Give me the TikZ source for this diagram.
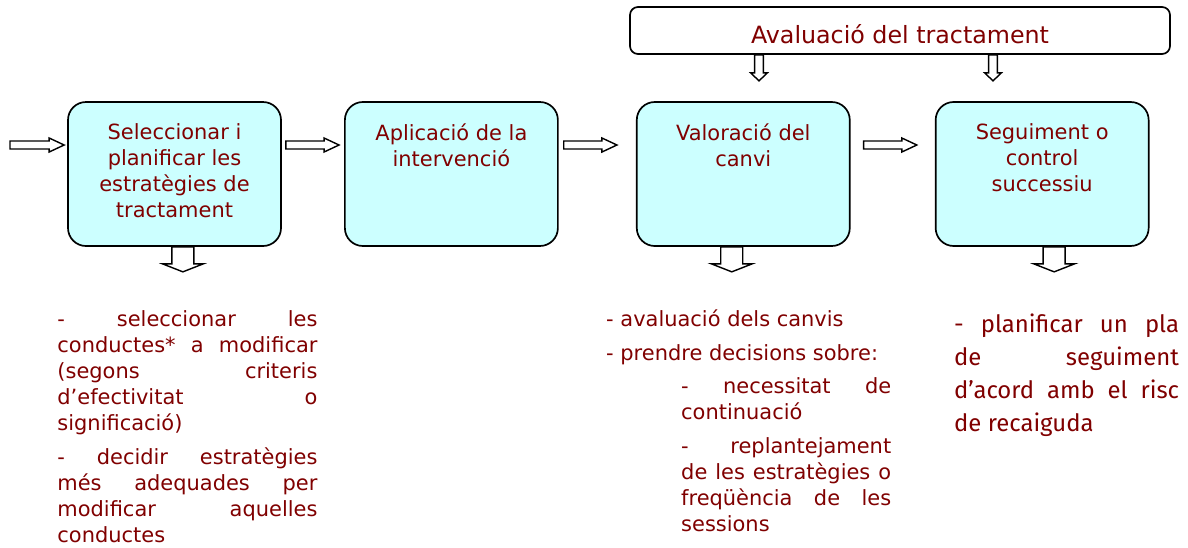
\documentclass[tikz,border=0pt]{standalone}
\usepackage{fontspec}
\setmainfont{DejaVu Sans}
\newfontfamily\notefont{Fira Sans}
\usepackage{xcolor}
\usepackage{tikz}
\usetikzlibrary{positioning, calc}
\definecolor{boxtext}{HTML}{800000}
\definecolor{stagebg}{HTML}{CCFFFF}
\tolerance=10000
\hbadness=10000
\tikzset{
  stage/.style={
    draw=black,
    line width=1.2pt,
    fill=stagebg,
    rounded corners=0.45cm,
    minimum width=5.325cm,
    minimum height=3.6cm,
    inner sep=0pt
  },
  stage text/.style={
    align=center, inner sep=0pt, text=boxtext,
    font=\fontsize{14.9}{18.5}\selectfont
  },
  eval box/.style={
    draw=black, line width=1.2pt, fill=white,
    rounded corners=0.2cm,
    minimum width=13.5cm, minimum height=1.175cm,
    text height=0.65cm, text depth=0pt,
    text=boxtext, font=\fontsize{16.9}{20}\selectfont
  },
  note/.style={
    align=justify, inner sep=0pt, text=boxtext,
    font=\fontsize{14.9}{18.5}\selectfont
  },
  hblock/.style={
    draw=black, line width=1pt, fill=white,
    to path={let \p1=(\tikztostart), \p2=(\tikztotarget) in
      (\x1,\y1+1mm) -- (\x2-3.75mm,\y1+1mm) -- (\x2-3.75mm,\y1+1.75mm) -- (\x2,\y1)
      -- (\x2-3.75mm,\y1-1.75mm) -- (\x2-3.75mm,\y1-1mm) -- (\x1,\y1-1mm) -- cycle}
  },
  vblock/.style 2 args={
    draw=black, line width=1pt, fill=white,
    to path={let \p1=(\tikztostart), \p2=(\tikztotarget) in
      (\x1-#1,\y1) -- (\x1-#1,\y2+2mm) -- (\x1-#2,\y2+2mm) -- (\x1,\y2)
      -- (\x1+#2,\y2+2mm) -- (\x1+#1,\y2+2mm) -- (\x1+#1,\y1) -- cycle}
  }
}

\begin{document}
\begin{tikzpicture}
  \useasboundingbox (0,0) rectangle (29.7,-13.675);

  % Stages
  \node[stage] (sel) at (4.3625,-4.35) {};
  \node[stage, right=1.555cm of sel] (apl) {};
  \node[stage, right=1.93cm of apl] (val) {};
  \node[stage, right=2.105cm of val] (seg) {};
  \node[eval box] (eval) at (22.5,-0.7625) {Avaluació del tractament};

  \node[stage text, below=5.5mm of sel.north] (sel text) {Seleccionar i\\planificar les\\estratègies de\\tractament};
  \node[stage text, below=5.5mm of apl.north] (apl text) {Aplicació de la\\intervenció};
  \node[stage text, below=5.5mm of val.north] (val text) {Valoració del\\canvi};
  \node[stage text, below=5.5mm of seg.north] (seg text) {Seguiment o\\control\\successiu};

  % Arrows
  \coordinate (start) at (0.25,-3.625);
  \draw[hblock] (start) to ([shift={(-0.75mm,7.25mm)}]sel.west);
  \draw[hblock] ([shift={(1mm,7.25mm)}]sel.east) to ([shift={(-1.25mm,7.25mm)}]apl.west);
  \draw[hblock] ([shift={(1.25mm,7.25mm)}]apl.east) to ([shift={(-4.75mm,7.25mm)}]val.west);
  \draw[hblock] ([shift={(3.25mm,7.25mm)}]val.east) to ([shift={(-4.5mm,7.25mm)}]seg.west);

  \draw[vblock={1.1mm}{2.1mm}] ([xshift=-3.525cm]eval.south) to ([shift={(-3.525cm,-6.5mm)}]eval.south);
  \draw[vblock={1.1mm}{2.1mm}] ([xshift=2.325cm]eval.south) to ([shift={(2.325cm,-6.5mm)}]eval.south);

  \draw[vblock={2.75mm}{5.1mm}] ([xshift=2.1mm]sel.south) to ([shift={(2.1mm,-6.25mm)}]sel.south);
  \draw[vblock={2.75mm}{5.1mm}] ([xshift=-2.875mm]val.south) to ([shift={(-2.875mm,-6.25mm)}]val.south);
  \draw[vblock={2.75mm}{5.1mm}] ([xshift=3mm]seg.south) to ([shift={(3mm,-6.25mm)}]seg.south);

  % Notes
  \node[note, text width=6.5cm, below right=1.575cm and -0.25cm of sel.south west] (sel note)
    {- seleccionar les\linebreak conductes* a modificar\linebreak (segons criteris\linebreak d’efectivitat o\linebreak significació)\\[0.2cm]
     - decidir estratègies\linebreak més adequades per\linebreak modificar aquelles\linebreak conductes};
  \node[note, align=left, below right=1.575cm and -0.75cm of val.south west] (val note)
    {- avaluació dels canvis\\[0.2cm]- prendre decisions sobre:};
  \node[note, text width=5.25cm, below right=3.25cm and 1.125cm of val.south west] (val sub)
    {- necessitat de\linebreak continuació\\[0.2cm]
     - replantejament\linebreak de les estratègies o\linebreak freqüència de les\linebreak sessions};
  \node[note, font=\notefont\fontsize{17}{23.5}\selectfont, text width=5.625cm,
    below right=1.675cm and 0.475cm of seg.south west] (seg note)
    {- planificar un pla\linebreak de seguiment\linebreak d’acord amb el risc\linebreak de recaiguda};
\end{tikzpicture}
\end{document}
